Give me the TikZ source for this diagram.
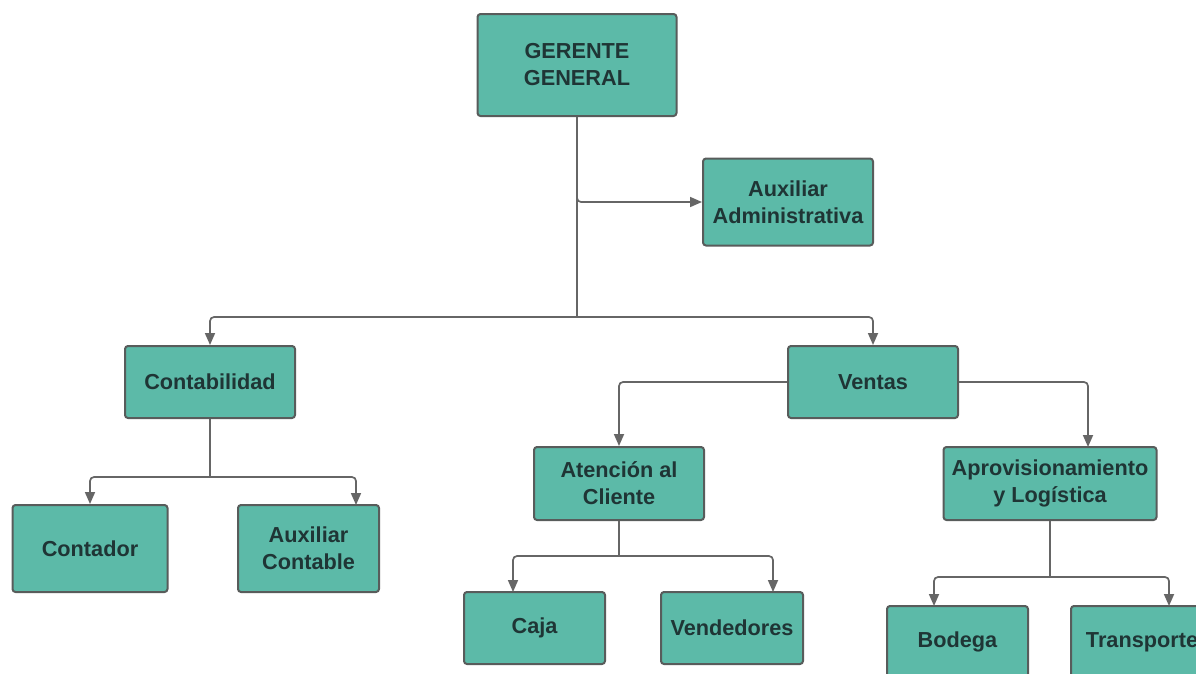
\documentclass[tikz,border=0pt]{standalone}
\usepackage{fontspec}
\setmainfont{Liberation Sans}
\usetikzlibrary{arrows.meta}
\definecolor{boxfill}{HTML}{5CBAA8}
\definecolor{boxdraw}{HTML}{585C5B}
\definecolor{txt}{HTML}{1F3535}
\definecolor{wire}{HTML}{666666}
\tikzset{
  orgbox/.style={draw=boxdraw, line width=2pt, fill=boxfill, rounded corners=3pt,
    inner sep=0pt, align=center, text=txt,
    font=\fontsize{21.7}{27}\selectfont\bfseries},
  wireline/.style={draw=wire, line width=1.7pt, rounded corners=4pt},
  wirearrow/.style={wireline, -{Triangle[length=12pt,width=10pt]}}
}
\begin{document}
\begin{tikzpicture}[x=1pt,y=-1pt]
\useasboundingbox (0,0) rectangle (1196,673);
\fill[white] (0,0) rectangle (1196,673);
\clip (0,0) rectangle (1196,673);
% nodes
\node[orgbox, minimum width=199pt, minimum height=102pt] (ger) at (577,65) {GERENTE\\GENERAL};
\node[orgbox, minimum width=170pt, minimum height=87pt] (auxadm) at (788,202) {Auxiliar\\Administrativa};
\node[orgbox, minimum width=170pt, minimum height=72pt] (cont) at (210,382) {Contabilidad};
\node[orgbox, minimum width=170pt, minimum height=72pt] (ventas) at (873,382) {Ventas};
\node[orgbox, minimum width=170pt, minimum height=73pt] (aten) at (619,483.5) {Atención al\\Cliente};
\node[orgbox, minimum width=213pt, minimum height=73pt] (aprov) at (1050,483.5) {Aprovisionamiento\\y Logística};
\node[orgbox, minimum width=155pt, minimum height=87pt] (contador) at (90,548.5) {Contador};
\node[orgbox, minimum width=141pt, minimum height=87pt] (auxcont) at (308.5,548.5) {Auxiliar\\Contable};
\node[orgbox, minimum width=141pt, minimum height=72pt] (caja) at (534.5,628) {Caja};
\node[orgbox, minimum width=142pt, minimum height=72pt] (vend) at (732,628) {Vendedores};
\node[orgbox, minimum width=141pt, minimum height=72pt] (bodega) at (957.5,642) {Bodega};
\node[orgbox, minimum width=142pt, minimum height=72pt] (transp) at (1142,642) {Transporte};
% junction coordinates
\coordinate (jg) at (577,317);
\coordinate (jc) at (210,477);
\coordinate (ja) at (619,556);
\coordinate (jp) at (1050,577);
\coordinate (inAuxCont) at (356,505);
\coordinate (inAprov) at (1088,447);
\coordinate (inCaja) at (513,592);
\coordinate (inVend) at (773,592);
\coordinate (inBod) at (934,606);
\coordinate (inTra) at (1169,606);
% connectors
\draw[wirearrow] (ger.south) |- (auxadm.west);
\draw[wireline] (ger.south) -- (jg);
\draw[wirearrow] (jg) -| (cont.north);
\draw[wirearrow] (jg) -| (ventas.north);
\draw[wireline] (cont.south) -- (jc);
\draw[wirearrow] (jc) -| (contador.north);
\draw[wirearrow] (jc) -| (inAuxCont);
\draw[wirearrow] (ventas.west) -| (aten.north);
\draw[wirearrow] (ventas.east) -| (inAprov);
\draw[wireline] (aten.south) -- (ja);
\draw[wirearrow] (ja) -| (inCaja);
\draw[wirearrow] (ja) -| (inVend);
\draw[wireline] (aprov.south) -- (jp);
\draw[wirearrow] (jp) -| (inBod);
\draw[wirearrow] (jp) -| (inTra);
\end{tikzpicture}
\end{document}
